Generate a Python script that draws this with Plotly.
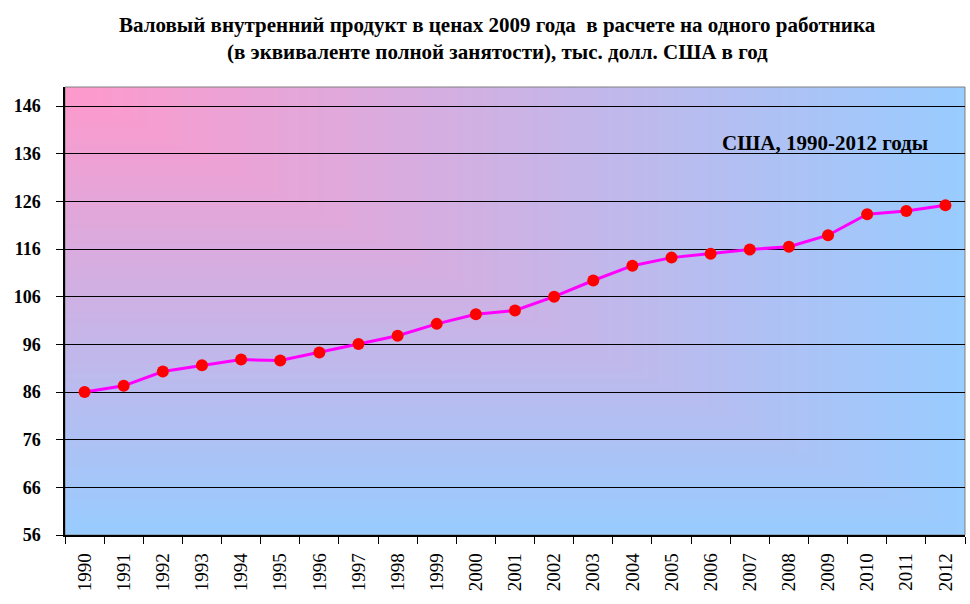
import base64
import struct
import zlib

import numpy as np
import plotly.graph_objects as go

years = [str(y) for y in range(1990, 2013)]
gdp = [86.0, 87.3, 90.3, 91.6, 92.8, 92.6, 94.3, 96.1, 97.8, 100.3, 102.3, 103.1,
       106.0, 109.4, 112.5, 114.2, 115.0, 115.9, 116.5, 118.9, 123.3, 124.0, 125.2]
y_ticks = list(range(56, 147, 10))

title_line1 = "<b>Валовый внутренний продукт в ценах 2009 года  в расчете на одного работника</b>"
title_line2 = "<b>(в эквиваленте полной занятости), тыс. долл. США в год</b>"
note_text = "<b>США, 1990-2012 годы</b>"


# фон: градиент "из угла" (розовый слева сверху -> голубой), как png-картинка
def corner_gradient_png(w=180, h=90, c0=(255, 153, 204), c1=(153, 204, 255)):
    xs = np.linspace(0, 1, w)
    ys = np.linspace(0, 1, h)
    t = np.maximum(xs[None, :], ys[:, None])
    c0 = np.array(c0, dtype=float)
    c1 = np.array(c1, dtype=float)
    img = (c0 + (c1 - c0) * t[..., None]).round().astype(np.uint8)
    raw = b"".join(b"\x00" + img[r].tobytes() for r in range(h))

    def chunk(tag, data):
        return (struct.pack(">I", len(data)) + tag + data
                + struct.pack(">I", zlib.crc32(tag + data) & 0xffffffff))

    png = (b"\x89PNG\r\n\x1a\n"
           + chunk(b"IHDR", struct.pack(">IIBBBBB", w, h, 8, 2, 0, 0, 0))
           + chunk(b"IDAT", zlib.compress(raw, 9))
           + chunk(b"IEND", b""))
    return "data:image/png;base64," + base64.b64encode(png).decode()


fig = go.Figure()

fig.add_trace(go.Scatter(
    x=years, y=gdp,
    mode="lines+markers",
    line=dict(color="#FF00FF", width=3),
    marker=dict(color="#FF0000", size=12, symbol="circle"),
    showlegend=False,
))

font_serif = "Liberation Serif, Times New Roman, serif"

fig.update_layout(
    width=970, height=604,
    margin=dict(l=65, r=5, t=87, b=69, autoexpand=False),
    paper_bgcolor="white",
    plot_bgcolor="rgba(0,0,0,0)",
    font=dict(family=font_serif, color="black"),
    xaxis=dict(
        type="category", tickmode="array", tickvals=years,
        tickangle=-90, tickson="boundaries", ticks="outside", ticklen=7,
        tickcolor="black", tickfont=dict(size=19, family=font_serif),
        ticklabelstandoff=9,
        showline=True, linecolor="black", linewidth=1.5, showgrid=False,
        range=[-0.5, len(years) - 0.5], automargin=False,
    ),
    yaxis=dict(
        range=[56, 150], tickvals=y_ticks,
        ticktext=["<b>%d</b>" % v for v in y_ticks], ticks="outside",
        ticklen=7, tickcolor="black", ticklabelstandoff=12,
        tickfont=dict(size=18, family=font_serif),
        showline=True, linecolor="black", linewidth=1.5,
        showgrid=True, gridcolor="black", gridwidth=1, zeroline=False,
        automargin=False,
    ),
    images=[dict(source=corner_gradient_png(), xref="paper", yref="paper",
                 x=0, y=1, sizex=1, sizey=1, xanchor="left", yanchor="top",
                 sizing="stretch", layer="below")],
    shapes=[dict(type="rect", xref="paper", yref="paper", x0=0, x1=1, y0=0, y1=1,
                 line=dict(color="#808080", width=1), fillcolor="rgba(0,0,0,0)", layer="below")],
    annotations=[
        dict(text=title_line1, xref="paper", yref="paper", x=0.481, y=1.138,
             xanchor="center", yanchor="middle", showarrow=False,
             font=dict(size=21, family=font_serif, color="black")),
        dict(text=title_line2, xref="paper", yref="paper", x=0.481, y=1.078,
             xanchor="center", yanchor="middle", showarrow=False,
             font=dict(size=21, family=font_serif, color="black")),
        dict(text=note_text, xref="paper", yref="paper", x=0.961, y=0.875,
             xanchor="right", yanchor="middle", showarrow=False,
             font=dict(size=21, family=font_serif, color="black")),
    ],
)

fig.write_html("out.html", config={"displayModeBar": False},
               post_script="document.body.style.margin='0px';")
